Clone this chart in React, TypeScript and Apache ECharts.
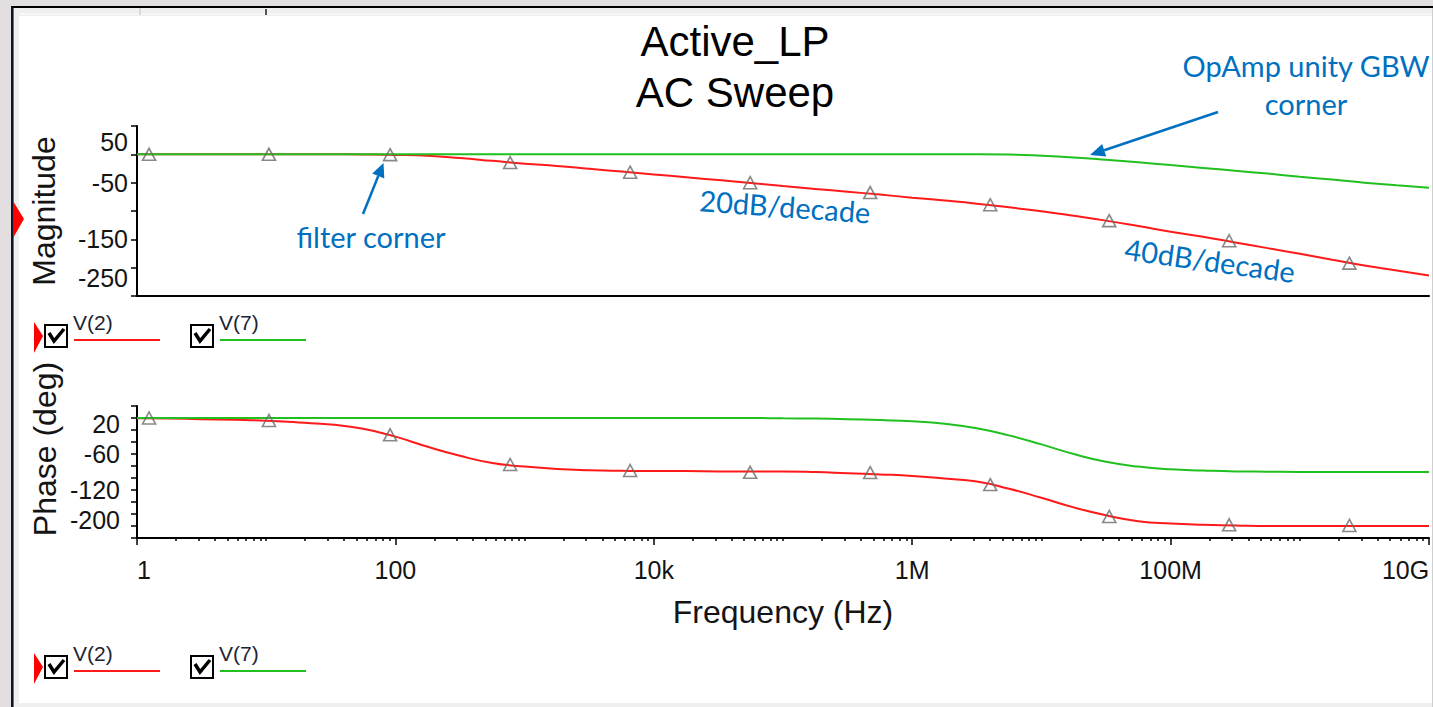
import React, { useEffect, useRef } from 'react';
import * as echarts from 'echarts';

const AXIS_FONT = '"Liberation Sans", Arial, Helvetica, sans-serif';
const NOTE_FONT = 'Lato, "Open Sans", sans-serif';
const RED = '#ff1a1a';
const GREEN = '#1fc01f';
const BLUE = '#0070c0';
const INK = '#141414';

// ---- data: frequency in Hz, read at quarter-decade points ----
const sweepFreqs = [
  1, 1.78, 3.16, 5.62,
  10, 17.8, 31.6, 56.2,
  100, 178, 316, 562,
  1e3, 1.78e3, 3.16e3, 5.62e3,
  1e4, 1.78e4, 3.16e4, 5.62e4,
  1e5, 1.78e5, 3.16e5, 5.62e5,
  1e6, 1.78e6, 3.16e6, 5.62e6,
  1e7, 1.78e7, 3.16e7, 5.62e7,
  1e8, 1.78e8, 3.16e8, 5.62e8,
  1e9, 1.78e9, 3.16e9, 5.62e9,
  1e10,
];

// V(2) magnitude (dB)
const redMagDb = [
  0, 0, 0, 0,
  0, 0, 0, -0.3,
  -1, -2.5, -6.5, -11.5,
  -16.5, -20.5, -25.5, -30.5,
  -35.5, -40.5, -45.5, -50.5,
  -56, -61, -66, -71,
  -76.5, -81.5, -87, -93.5,
  -100.5, -108.5, -117, -126.5,
  -136.5, -145.5, -155.5, -165.5,
  -175.5, -186, -196, -205,
  -214,
];

// V(7) magnitude (dB)
const greenMagDb = [
  0, 0, 0, 0,
  0, 0, 0, 0,
  0, 0, 0, 0,
  0, 0, 0, 0,
  0, 0, 0, 0,
  0, 0, 0, 0,
  0, 0, 0, -0.5,
  -2.5, -5.5, -9.5, -14,
  -19, -24, -29, -34,
  -39.5, -44.5, -50, -54.5,
  -59,
];

// V(2) phase (deg)
const redPhaseDeg = [
  -0.5, -1, -2, -3,
  -4.5, -7.5, -11, -18,
  -31, -48, -63, -75,
  -81, -85, -87, -88,
  -88.5, -88.5, -89, -89,
  -89, -90, -92, -94,
  -96.5, -101, -106, -118,
  -133, -149, -162, -172,
  -176, -178, -179, -180,
  -180, -180, -180, -180,
  -180,
];

// V(7) phase (deg)
const greenPhaseDeg = [
  0, 0, 0, 0,
  0, 0, 0, 0,
  0, 0, 0, 0,
  0, 0, 0, 0,
  0, 0, 0, 0,
  -0.5, -1, -2, -3.5,
  -5.5, -9.5, -17, -29,
  -44, -60, -73, -81,
  -85.5, -87.5, -89, -89.5,
  -90, -90, -90, -90,
  -90,
];

// trace markers placed on V(2)
const markerFreqs = [1.24, 10.5, 91, 773, 6.56e3, 5.57e4, 4.73e5, 4.02e6, 3.35e7, 2.84e8, 2.42e9];
const markerMagDb = [0, 0, -0.5, -14.5, -31.5, -50, -67.5, -89, -117, -152.5, -192];
const markerPhaseDeg = [0, -4, -28, -77.5, -87.5, -90.5, -91, -111, -164, -178, -179];

// ---- axis tick labels ----
const freqLabelExps = [0, 2, 4, 6, 8, 10];
const freqLabels = ['1', '100', '10k', '1M', '100M', '10G'];
const magTickLabels = [50, -50, -150, -250];
const phaseTickLabels = [20, -60, -120, -200];
const minorMultipliers = [2, 3, 4, 5, 6, 7, 8, 9, 10];

const pairs = (f: number[], v: number[]) => f.map((x, i) => [x, v[i]]);

function minorTickExps(): number[] {
  const out: number[] = [];
  for (let d = 0; d < 10; d++) {
    for (const k of minorMultipliers) {
      const e = d + Math.log10(k);
      if (k === 10 && freqLabelExps.indexOf(d + 1) >= 0) continue;
      out.push(e);
    }
  }
  return out;
}

function arrow(tail: number[], tip: number[], headLen: number, headHalf: number) {
  const dx = tip[0] - tail[0];
  const dy = tip[1] - tail[1];
  const len = Math.sqrt(dx * dx + dy * dy);
  const ux = dx / len;
  const uy = dy / len;
  const bx = tip[0] - ux * headLen;
  const by = tip[1] - uy * headLen;
  const px = -uy * headHalf;
  const py = ux * headHalf;
  return [
    { type: 'line', z: 20, shape: { x1: tail[0], y1: tail[1], x2: bx, y2: by }, style: { stroke: BLUE, lineWidth: 2.5 } },
    { type: 'polygon', z: 20, shape: { points: [[tip[0], tip[1]], [bx + px, by + py], [bx - px, by - py]] }, style: { fill: BLUE } },
  ];
}

function note(text: string, x: number, y: number, size: number, rotation = 0, lineHeight?: number) {
  return {
    type: 'text', z: 20, x, y, rotation,
    style: {
      text, fill: BLUE, fontSize: size, fontFamily: NOTE_FONT, lineHeight: lineHeight || size * 1.2,
      align: 'center', verticalAlign: 'middle', textAlign: 'center', textVerticalAlign: 'middle',
    },
  };
}

function legendRow(y0: number) {
  const items: any[] = [];
  items.push({ type: 'polygon', z: 10, shape: { points: [[34, y0 - 2], [43, y0 + 12], [34, y0 + 29]] }, style: { fill: '#ff0000' } });
  const entries = [
    { bx: 45, label: 'V(2)', color: RED },
    { bx: 191, label: 'V(7)', color: GREEN },
  ];
  for (const e of entries) {
    items.push({ type: 'rect', z: 10, shape: { x: e.bx, y: y0 + 1, width: 22, height: 22 }, style: { fill: '#fff', stroke: '#000', lineWidth: 2 } });
    items.push({ type: 'polyline', z: 11, shape: { points: [[e.bx + 4, y0 + 9], [e.bx + 9, y0 + 17], [e.bx + 19, y0 + 5]] }, style: { stroke: '#000', lineWidth: 3.5, fill: null } });
    items.push({ type: 'text', z: 10, x: e.bx + 28, y: y0 - 2, style: { text: e.label, fill: '#1c2433', fontSize: 21, fontFamily: AXIS_FONT, align: 'left', verticalAlign: 'middle', textAlign: 'left', textVerticalAlign: 'middle' } });
    items.push({ type: 'line', z: 10, shape: { x1: e.bx + 29, y1: y0 + 16, x2: e.bx + 115, y2: y0 + 16 }, style: { stroke: e.color, lineWidth: 2 } });
  }
  return items;
}

export default function App() {
  const ref = useRef<HTMLDivElement>(null);

  useEffect(() => {
    document.body.style.margin = '0';
    const chart = echarts.init(ref.current as HTMLDivElement, null, { renderer: 'svg' });

    const tickStyle = { color: '#000', width: 1.5 };
    const axisLineStyle = { color: '#000', width: 2 };
    const labelBase = { fontSize: 25, fontFamily: AXIS_FONT, color: INK };

    const logAxis = (gridIndex: number) => ({
      gridIndex, type: 'log', logBase: 10, min: 1, max: 1e10,
      axisLine: { show: true, onZero: false, lineStyle: axisLineStyle },
      axisTick: { show: false }, axisLabel: { show: false }, splitLine: { show: false },
      minorTick: { show: false }, minorSplitLine: { show: false },
    });

    const lineSeries = (name: string, xi: number, vals: number[], color: string, z: number) => ({
      name, type: 'line', xAxisIndex: xi, yAxisIndex: xi, data: pairs(sweepFreqs, vals),
      showSymbol: false, smooth: 0.5, z,
      lineStyle: { color, width: 2 }, itemStyle: { color },
    });

    const markerSeries = (name: string, xi: number, vals: number[]) => ({
      name, type: 'scatter', xAxisIndex: xi, yAxisIndex: xi, data: pairs(markerFreqs, vals),
      symbol: 'triangle', symbolSize: [13, 12], z: 5,
      itemStyle: { color: 'rgba(0,0,0,0)', borderColor: '#6a6a6a', borderWidth: 1.6 },
    });

    const option: any = {
      animation: false,
      backgroundColor: '#e3dfe0',
      title: {
        text: 'Active_LP\nAC Sweep',
        left: 730, top: 11, textAlign: 'center',
        textStyle: { fontSize: 42, fontWeight: 'normal', lineHeight: 51, color: '#000', fontFamily: AXIS_FONT },
      },
      grid: [
        { left: 137, top: 126, width: 1292, height: 170, containLabel: false, outerBoundsMode: 'none' },
        { left: 137, top: 406, width: 1292, height: 132, containLabel: false, outerBoundsMode: 'none' },
      ],
      xAxis: [
        logAxis(0),
        logAxis(1),
        {
          gridIndex: 1, type: 'value', min: 0, max: 10, interval: 1, position: 'bottom',
          axisLine: { show: false, onZero: false },
          axisTick: { show: true, customValues: minorTickExps(), length: 3, lineStyle: tickStyle },
          axisLabel: { show: false }, splitLine: { show: false },
        },
        {
          gridIndex: 1, type: 'value', min: 0, max: 10, interval: 2, position: 'bottom',
          axisLine: { show: false, onZero: false },
          axisTick: { show: true, customValues: freqLabelExps, length: 7, lineStyle: tickStyle },
          axisLabel: {
            ...labelBase, margin: 19, customValues: freqLabelExps,
            formatter: (v: number) => {
              const i = freqLabelExps.indexOf(Math.round(v));
              if (i < 0) return '';
              if (i === 0) return '{l|' + freqLabels[i] + '}';
              if (i === freqLabels.length - 1) return '{r|' + freqLabels[i] + '}';
              return freqLabels[i];
            },
            rich: {
              l: { ...labelBase, padding: [0, 0, 0, 14] },
              r: { ...labelBase, padding: [0, 47, 0, 0] },
            },
          },
          splitLine: { show: false },
          name: 'Frequency (Hz)', nameLocation: 'middle', nameGap: 58, nameMoveOverlap: false,
          nameTextStyle: { fontSize: 32, fontFamily: AXIS_FONT, color: INK },
        },
      ],
      yAxis: [
        {
          gridIndex: 0, type: 'value', min: -250, max: 50, interval: 50,
          axisLine: { show: true, onZero: false, lineStyle: axisLineStyle },
          axisTick: { show: true, length: 6, lineStyle: tickStyle },
          splitLine: { show: false },
          axisLabel: {
            ...labelBase, margin: 9,
            formatter: (v: number) => {
              if (magTickLabels.indexOf(v) < 0) return '';
              if (v === 50) return '{t|50}';
              if (v === -250) return '{b|-250}';
              return String(v);
            },
            rich: {
              t: { ...labelBase, padding: [32, 0, 0, 0] },
              b: { ...labelBase, padding: [0, 0, 36, 0] },
            },
          },
          name: 'Magnitude', nameLocation: 'middle', nameGap: 77, nameMoveOverlap: false,
          nameTextStyle: { fontSize: 32, fontFamily: AXIS_FONT, color: INK },
        },
        {
          gridIndex: 1, type: 'value', min: -200, max: 20, interval: 20,
          axisLine: { show: true, onZero: false, lineStyle: axisLineStyle },
          axisTick: { show: true, length: 6, lineStyle: tickStyle },
          splitLine: { show: false },
          axisLabel: {
            ...labelBase, margin: 17,
            formatter: (v: number) => {
              if (phaseTickLabels.indexOf(v) < 0) return '';
              if (v === 20) return '{t|20}';
              if (v === -200) return '{b|-200}';
              return String(v);
            },
            rich: {
              t: { ...labelBase, padding: [36, 0, 0, 0] },
              b: { ...labelBase, padding: [0, 0, 36, 0] },
            },
          },
          name: 'Phase (deg)', nameLocation: 'middle', nameGap: 76, nameMoveOverlap: false,
          nameTextStyle: { fontSize: 32, fontFamily: AXIS_FONT, color: INK, padding: [0, 0, 0, 46] },
        },
      ],
      series: [
        lineSeries('V(2) magnitude', 0, redMagDb, RED, 3),
        lineSeries('V(7) magnitude', 0, greenMagDb, GREEN, 4),
        markerSeries('V(2) magnitude markers', 0, markerMagDb),
        lineSeries('V(2) phase', 1, redPhaseDeg, RED, 3),
        lineSeries('V(7) phase', 1, greenPhaseDeg, GREEN, 4),
        markerSeries('V(2) phase markers', 1, markerPhaseDeg),
      ],
      graphic: {
        elements: [
          // window chrome
          { type: 'rect', z: -10, silent: true, shape: { x: 11, y: 7, width: 1422, height: 700 }, style: { fill: '#efefef' } },
          { type: 'rect', z: -9, silent: true, shape: { x: 19, y: 16, width: 1413, height: 687 }, style: { fill: '#ffffff' } },
          { type: 'rect', z: -9, silent: true, shape: { x: 11, y: 6, width: 1422, height: 2 }, style: { fill: '#000' } },
          { type: 'rect', z: -9, silent: true, shape: { x: 11, y: 7, width: 2, height: 700 }, style: { fill: '#0e1626' } },
          { type: 'rect', z: -9, silent: true, shape: { x: 13, y: 8, width: 1, height: 699 }, style: { fill: '#4a78b0' } },
          { type: 'rect', z: -9, silent: true, shape: { x: 20, y: 13, width: 1412, height: 2 }, style: { fill: '#f7f7f7' } },
          { type: 'rect', z: -9, silent: true, shape: { x: 139, y: 8, width: 2, height: 7 }, style: { fill: '#d9d9d9' } },
          { type: 'rect', z: -9, silent: true, shape: { x: 265, y: 9, width: 2, height: 6 }, style: { fill: '#555' } },
          { type: 'rect', z: -9, silent: true, shape: { x: 1432, y: 8, width: 1, height: 699 }, style: { fill: '#cfcfcf' } },
          // trace selection marker on the magnitude plot
          { type: 'polygon', z: 10, shape: { points: [[13, 201], [24, 219], [13, 238]] }, style: { fill: '#ff0000' } },
          ...legendRow(324),
          ...legendRow(655),
          // annotations
          ...arrow([363, 214], [383.5, 163], 14, 6.5),
          ...arrow([1218, 112], [1090, 155], 15, 6.5),
          note('filter corner', 371, 236, 29),
          note('20dB/decade', 785, 206, 29, -0.072),
          note('40dB/decade', 1210, 260, 29, -0.136),
          note('OpAmp unity GBW\ncorner', 1306, 84, 29, 0, 38),
        ],
      },
    };

    chart.setOption(option);
    return () => chart.dispose();
  }, []);

  return <div ref={ref} style={{ width: 1433, height: 707 }} />;
}
